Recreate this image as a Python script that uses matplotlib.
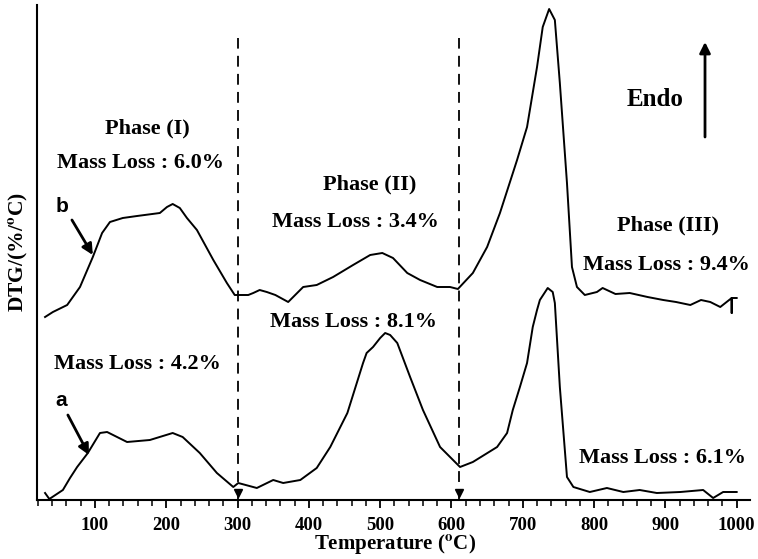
import matplotlib
matplotlib.use("Agg")
import matplotlib.pyplot as plt
from matplotlib.ticker import MultipleLocator

# ---- data ----
temp_b = [30, 41, 61, 79, 97, 110, 121, 139, 159, 191, 201, 209, 219, 229, 243, 266,
          285, 296, 315, 322, 331, 341, 353, 371, 392, 411, 434, 462, 486, 503, 518,
          538, 556, 580, 598, 609, 630, 650, 668, 692, 706, 720, 728, 737, 745, 752,
          762, 769, 776, 787, 804, 812, 830, 850, 875, 897, 915, 935, 950, 963, 977,
          993, 993, 993, 1000]
dtg_b = [183, 188, 195, 213, 243, 267, 278, 282, 284, 287, 293, 296, 292, 282, 270, 240,
         217, 205, 205, 207, 210, 208, 205, 198, 213, 215, 223, 235, 245, 247, 242,
         227, 220, 213, 213, 211, 227, 253, 287, 340, 373, 433, 473, 491, 480, 417,
         317, 233, 213, 205, 208, 212, 206, 207, 203, 200, 198, 195, 200, 198, 193,
         202, 187, 202, 202]

temp_a = [30, 36, 55, 65, 75, 90, 107, 117, 145, 177, 209, 223, 247, 271, 294, 301,
          327, 350, 364, 388, 411, 430, 454, 476, 481, 490, 500, 507, 514, 524, 542,
          560, 584, 612, 630, 664, 678, 686, 696, 706, 714, 720, 724, 735, 742, 745,
          752, 762, 771, 794, 818, 841, 864, 888, 921, 953, 967, 981, 1000]
dtg_a = [7, 1, 10, 22, 33, 47, 67, 68, 58, 60, 67, 63, 47, 27, 13, 17,
         12, 20, 17, 20, 32, 53, 87, 137, 147, 153, 162, 167, 165, 157, 123,
         90, 53, 33, 38, 53, 67, 90, 113, 137, 173, 190, 200, 212, 208, 197,
         113, 23, 13, 8, 12, 8, 10, 7, 8, 10, 2, 8, 8]

boundaries = [300, 610]
xticks = [100, 200, 300, 400, 500, 600, 700, 800, 900, 1000]

SERIF = ["Liberation Serif", "DejaVu Serif"]
plt.rcParams["font.family"] = SERIF
plt.rcParams["mathtext.fontset"] = "stix"

fig = plt.figure(figsize=(7.58, 5.59), dpi=100)
ax = fig.add_axes([37/758, 59/559, 713/758, 495/559])

ax.plot(temp_b, dtg_b, color="black", lw=1.4)
ax.plot(temp_a, dtg_a, color="black", lw=1.4)

for b in boundaries:
    ax.vlines(b, 0, 462, colors="black", linestyles=(0, (6, 4)), lw=1.3)
    ax.plot([b], [7], marker="v", color="black", markersize=6, clip_on=False)

ax.set_xlim(18.7, 1018.7)
ax.set_ylim(0, 495)
ax.set_xticks(xticks)
ax.xaxis.set_minor_locator(MultipleLocator(20))
ax.tick_params(axis="x", which="major", direction="out", length=6, width=1.3,
               labelsize=13.5, pad=6)
ax.tick_params(axis="x", which="minor", direction="out", length=4, width=1.1)
for lab in ax.get_xticklabels():
    lab.set_fontweight("bold")
ax.set_yticks([])
ax.spines["top"].set_visible(False)
ax.spines["right"].set_visible(False)
ax.spines["left"].set_linewidth(1.5)
ax.spines["bottom"].set_linewidth(1.5)

fig.text(395/758, 1 - 544/559, "Temperature ($^{\\mathbf{o}}$C)", fontsize=15,
         fontweight="bold", ha="center", va="center")
ax.set_ylabel("DTG/(%/$^{\\mathbf{o}}$C)", fontsize=15.5, fontweight="bold", labelpad=5)

tk = dict(fontsize=16, fontweight="bold", ha="center", va="center")
ax.text(173, 372, "Phase (I)", **tk)
ax.text(164.5, 337, "Mass Loss : 6.0%", **tk)
ax.text(160, 136, "Mass Loss : 4.2%", **tk)
ax.text(485.7, 316, "Phase (II)", **tk)
ax.text(464.7, 278, "Mass Loss : 3.4%", **tk)
ax.text(461.9, 178, "Mass Loss : 8.1%", **tk)
ax.text(903.6, 275, "Phase (III)", **tk)
ax.text(902, 235, "Mass Loss : 9.4%", **tk)
ax.text(896.6, 42, "Mass Loss : 6.1%", **tk)
ax.text(885, 400, "Endo", fontsize=18, fontweight="bold", ha="center", va="center")

sk = dict(fontsize=15, fontweight="bold", ha="center", va="center",
          family=["Liberation Sans", "DejaVu Sans"])
ax.text(53.7, 293, "b", **sk)
ax.text(52.3, 100, "a", **sk)

arr = dict(arrowstyle="-|>", lw=2.0, color="black", mutation_scale=16, shrinkA=0, shrinkB=0)
ax.annotate("", xy=(97, 245), xytext=(67.7, 280), arrowprops=arr)
ax.annotate("", xy=(91.6, 45), xytext=(62, 85), arrowprops=arr)
ax.annotate("", xy=(955.6, 458), xytext=(955.6, 363),
            arrowprops=dict(arrowstyle="-|>", lw=2.0, color="black", mutation_scale=16,
                            shrinkA=0, shrinkB=0))

fig.savefig("out.png", dpi=100)
